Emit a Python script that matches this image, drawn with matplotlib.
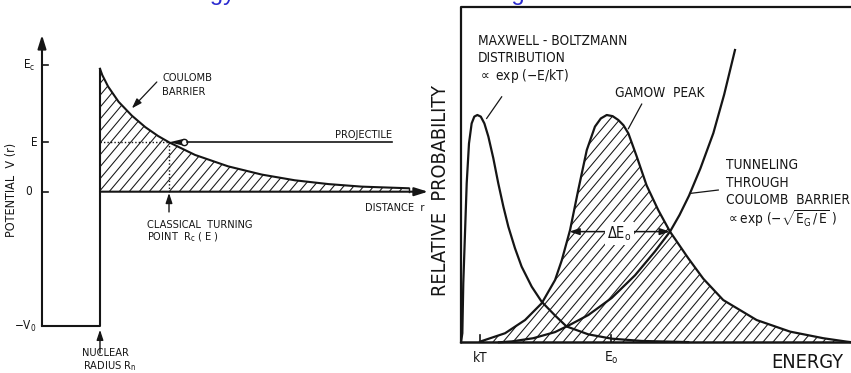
import numpy as np
import matplotlib
matplotlib.use("Agg")
import matplotlib.pyplot as plt
from matplotlib.collections import LineCollection
from matplotlib.patches import Polygon
from matplotlib.transforms import IdentityTransform

plt.rcParams["font.family"] = ["DejaVu Sans"]
plt.rcParams["font.stretch"] = "condensed"
plt.rcParams["mathtext.fontset"] = "custom"
plt.rcParams["mathtext.rm"] = "DejaVu Sans:stretch=condensed"
plt.rcParams["mathtext.it"] = "DejaVu Sans:stretch=condensed"
plt.rcParams["mathtext.sf"] = "DejaVu Sans:stretch=condensed"

INK = "#151515"

# left: potential felt by the projectile (r in units of R_n, V in units of E_C)
r_barrier = [1.0, 1.04, 1.14, 1.32, 1.55, 1.78, 2.0, 2.19, 2.64, 3.21, 3.79, 4.36, 4.94, 5.51, 6.32]
v_barrier = [0.97, 0.92, 0.83, 0.71, 0.60, 0.51, 0.44, 0.39, 0.29, 0.20, 0.135, 0.09, 0.06, 0.04, 0.027]
R_n = 1.0
E_c = 1.0
E_proj = 0.39
R_turn = 2.19
V_well = -1.06

# right: energy in units of kT, probability relative to the peaks
e_mb = [0.0, 0.07, 0.12, 0.21, 0.30, 0.42, 0.56, 0.70, 0.86, 1.04, 1.23, 1.44, 1.70, 1.96,
        2.23, 2.49, 2.84, 3.19, 3.72, 4.25, 4.95, 5.55, 6.70, 7.93, 9.51, 11.96]
p_mb = [0.0, 0.04, 0.26, 0.48, 0.70, 0.875, 0.963, 0.993, 1.0, 0.993, 0.963, 0.905, 0.81, 0.70,
        0.597, 0.509, 0.414, 0.333, 0.245, 0.178, 0.118, 0.07, 0.035, 0.016, 0.006, 0.001]

e_gamow = [1.0, 2.32, 3.37, 4.25, 4.95, 5.30, 5.74, 6.17, 6.62, 7.05, 7.36, 7.67, 7.98, 8.28, 8.55,
           8.81, 9.25, 9.77, 10.38, 11.0, 11.96, 12.75, 13.8, 15.56, 17.32, 19.07, 20.3, 20.6]
p_gamow = [0.003, 0.04, 0.098, 0.172, 0.274, 0.36, 0.494, 0.67, 0.846, 0.949, 0.985, 1.0, 0.995, 0.978, 0.955,
           0.919, 0.817, 0.69, 0.582, 0.487, 0.37, 0.28, 0.186, 0.098, 0.047, 0.018, 0.003, 0.0]

e_tunnel = [2.0, 2.67, 3.8, 4.95, 5.8, 6.7, 7.93, 9.16, 10.21, 11.0, 11.5, 12.0, 12.6, 13.28, 13.85, 14.42]
p_tunnel = [0.0, 0.004, 0.018, 0.045, 0.08, 0.12, 0.195, 0.295, 0.40, 0.487, 0.56, 0.645, 0.765, 0.92, 1.09, 1.286]

kT = 1.0
E_0 = 7.9
dE_lo, dE_hi, p_half = 5.7, 11.0, 0.487

fig = plt.figure(figsize=(8.51, 3.73), dpi=100)
ax_l = fig.add_axes([0, 0, 430 / 851, 1])
ax_r = fig.add_axes([430 / 851, 0, 421 / 851, 1])
for ax in (ax_l, ax_r):
    ax.set_axis_off()
ax_l.set_xlim(-0.724, 6.690)
ax_l.set_ylim(-1.431, 1.513)
ax_r.set_xlim(-1.632, 20.526)
ax_r.set_ylim(-0.135, 1.506)


def hatch_region(ax, xs, ys, spacing=10, angle=50):
    patch = Polygon(list(zip(xs, ys)), closed=True, facecolor="none", edgecolor="none")
    ax.add_patch(patch)
    w, h = fig.bbox.width, fig.bbox.height
    run = h / np.tan(np.radians(angle))
    starts = np.arange(-run, w + spacing, spacing)
    segs = [[(s, 0), (s + run, h)] for s in starts]
    lc = LineCollection(segs, colors=INK, linewidths=0.75, transform=IdentityTransform())
    ax.add_collection(lc, autolim=False)
    lc.set_clip_path(patch)


def arrow(ax, start, end, lw=1.2, hl=0.8, hw=0.25):
    ax.annotate("", xy=end, xytext=start,
                arrowprops=dict(arrowstyle=f"-|>,head_length={hl},head_width={hw}",
                                color=INK, lw=lw, shrinkA=0, shrinkB=0))


txt = dict(color=INK, fontsize=7.9)

# ---- left panel
hatch_region(ax_l, [R_n] + r_barrier + [r_barrier[-1]], [0] + v_barrier + [0])
ax_l.plot(r_barrier, v_barrier, color=INK, lw=1.5)
ax_l.plot([r_barrier[-1]] * 2, [0, v_barrier[-1]], color=INK, lw=1.0)
ax_l.plot([0, R_n, R_n], [V_well, V_well, v_barrier[0]], color=INK, lw=1.5)
arrow(ax_l, (0, V_well), (0, 1.237), lw=1.5)
arrow(ax_l, (R_n, 0), (6.655, 0), lw=1.5)

for v in (E_c, E_proj, 0):
    ax_l.plot([0, 0.1], [v, v], color=INK, lw=1.2)
ax_l.text(-0.12, E_c, "$E_c$", ha="right", va="center", color=INK, fontsize=8.5)
ax_l.text(-0.08, E_proj, "E", ha="right", va="center", color=INK, fontsize=8.5)
ax_l.text(-0.17, 0, "0", ha="right", va="center", color=INK, fontsize=8.5)
ax_l.text(-0.09, V_well, "$-V_0$", ha="right", va="center", color=INK, fontsize=8.5)
ax_l.text(-0.52, 0.01, "POTENTIAL  V (r)", rotation=90, ha="center", va="center",
          color=INK, fontsize=9)

ax_l.plot([R_n, R_turn], [E_proj, E_proj], color=INK, lw=1.0, ls=(0, (1, 1.5)))
ax_l.plot([R_turn, R_turn], [E_proj, 0], color=INK, lw=1.0, ls=(0, (1, 1.5)))
arrow(ax_l, (R_turn, -0.16), (R_turn, -0.01), lw=1.0, hl=0.6, hw=0.2)
arrow(ax_l, (R_n, -1.273), (R_n, -1.09), lw=1.0, hl=0.6, hw=0.2)
arrow(ax_l, (1.98, 0.866), (1.55, 0.658), lw=0.9, hl=0.6, hw=0.2)

# projectile travelling in from the right
cone_len, cone_hw = 0.26, 0.028
ax_l.fill([R_turn, R_turn + cone_len, R_turn + cone_len],
          [E_proj, E_proj + cone_hw, E_proj - cone_hw], color=INK, lw=0)
ax_l.plot([R_turn + cone_len], [E_proj], marker="o", ms=4.5, mfc="white", mec=INK, mew=1.0)
ax_l.plot([R_turn + cone_len + 0.05, 6.03], [E_proj, E_proj], color=INK, lw=1.2)

ax_l.text(2.07, 0.895, "COULOMB", ha="left", va="center", **txt)
ax_l.text(2.07, 0.79, "BARRIER", ha="left", va="center", **txt)
ax_l.text(6.04, 0.405, "PROJECTILE", ha="right", va="bottom", **txt)
ax_l.text(6.60, -0.13, "DISTANCE  r", ha="right", va="center", **txt)
ax_l.text(1.81, -0.26, "CLASSICAL  TURNING", ha="left", va="center", **txt)
ax_l.text(1.81, -0.36, "POINT  $R_c$ ( E )", ha="left", va="center", **txt)
ax_l.text(0.69, -1.274, "NUCLEAR", ha="left", va="center", **txt)
ax_l.text(0.71, -1.375, "RADIUS $R_n$", ha="left", va="center", **txt)

# ---- right panel
rtxt = dict(color=INK, fontsize=9.8)
hatch_region(ax_r, e_gamow + [e_gamow[0]], p_gamow + [0])
ax_r.plot([0, 0, 21], [0, 1.475, 1.475], color=INK, lw=1.6)
ax_r.plot([0, 21], [0, 0], color=INK, lw=1.8)
ax_r.plot(e_mb, p_mb, color=INK, lw=1.6)
ax_r.plot(e_gamow, p_gamow, color=INK, lw=1.6)
ax_r.plot(e_tunnel, p_tunnel, color=INK, lw=1.6)

for e in (kT, E_0):
    ax_r.plot([e, e], [0, 0.03], color=INK, lw=1.2)
ax_r.text(kT, -0.069, "kT", ha="center", va="center", **rtxt)
ax_r.text(E_0, -0.069, "$E_o$", ha="center", va="center", **rtxt)
ax_r.text(18.2, -0.0875, "ENERGY", ha="center", va="center", color=INK, fontsize=14.3)
ax_r.text(-1.105, 0.67, "RELATIVE  PROBABILITY", rotation=90, ha="center", va="center",
          color=INK, fontsize=14.2)

ax_r.plot([2.14, 1.35], [1.08, 0.985], color=INK, lw=0.9)
ax_r.plot([9.51, 8.81], [1.048, 0.94], color=INK, lw=0.9)
ax_r.plot([13.54, 12.05], [0.67, 0.655], color=INK, lw=0.9)

ax_r.text(0.9, 1.326, "MAXWELL - BOLTZMANN", ha="left", va="center", **rtxt)
ax_r.text(0.9, 1.251, "DISTRIBUTION", ha="left", va="center", **rtxt)
ax_r.text(0.9, 1.172, r"$\propto$ exp (−E/kT)", ha="left", va="center", **rtxt)
ax_r.text(8.1, 1.097, "GAMOW  PEAK", ha="left", va="center", **rtxt)
ax_r.text(13.95, 0.78, "TUNNELING", ha="left", va="center", **rtxt)
ax_r.text(13.95, 0.70, "THROUGH", ha="left", va="center", **rtxt)
ax_r.text(13.95, 0.626, "COULOMB  BARRIER", ha="left", va="center", **rtxt)
ax_r.text(13.95, 0.544, r"$\propto$exp (−$\sqrt{E_G\,/\,E}$ )", ha="left", va="center", **rtxt)

ax_r.annotate("", xy=(dE_lo, p_half), xytext=(dE_hi, p_half),
              arrowprops=dict(arrowstyle="<|-|>,head_length=0.6,head_width=0.2",
                              color=INK, lw=1.1, shrinkA=0, shrinkB=0))
ax_r.text((dE_lo + dE_hi) / 2, p_half - 0.01, r"$\Delta E_o$", ha="center", va="center",
          color=INK, fontsize=10.5,
          bbox=dict(boxstyle="square,pad=0.15", fc="white", ec="none"))

# slide heading, mostly above the visible area
fig.text(160 / 851, 1.0 + 0.5 / 373, "Energy window for nuclear burning", ha="left",
         va="baseline", color="#2b2bd0", fontsize=17, family=["Liberation Sans", "DejaVu Sans"],
         stretch="normal")

fig.savefig("out.png", dpi=100)
